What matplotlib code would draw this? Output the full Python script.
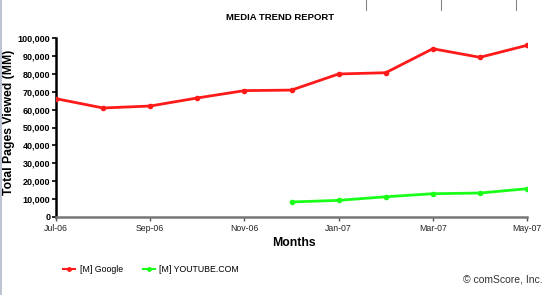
import matplotlib.pyplot as plt
from matplotlib.lines import Line2D

plt.rcParams["font.family"] = ["Liberation Sans", "DejaVu Sans"]

months = ["Jul-06", "Aug-06", "Sep-06", "Oct-06", "Nov-06", "Dec-06",
          "Jan-07", "Feb-07", "Mar-07", "Apr-07", "May-07"]
google = [66100, 60900, 62000, 66500, 70600, 70900, 79900, 80600, 94000, 89200, 95900]
youtube_months = months[5:]
youtube = [8400, 9300, 11300, 13000, 13400, 15800]
yticks = list(range(0, 100001, 10000))

fig = plt.figure(figsize=(5.6, 2.95), dpi=100)
ax = fig.add_axes([56 / 560, 1 - 217 / 295, (527 - 56) / 560, (217 - 38) / 295])

x_google = list(range(len(months)))
x_youtube = [months.index(m) for m in youtube_months]
ax.plot(x_google, google, color="#ff1a1a", lw=2.0, marker="o", ms=3, zorder=3)
ax.plot(x_youtube, youtube, color="#1aff1a", lw=2.0, marker="o", ms=3, zorder=3)

ax.set_xlim(0, len(months) - 1)
ax.set_ylim(0, 100000)
ax.set_yticks(yticks)
ax.set_yticklabels([f"{v:,}" for v in yticks], fontsize=6.5, fontweight="bold")
ax.set_xticks(x_google[::2])
ax.set_xticklabels(months[::2], fontsize=6.3, color="#222222")
ax.tick_params(axis="y", length=3, width=1.2, pad=1)
ax.tick_params(axis="x", length=3, width=1, color="#555555", pad=2)

for s in ["top", "right"]:
    ax.spines[s].set_visible(False)
ax.spines["left"].set_linewidth(1.8)
ax.spines["left"].set_color("black")
ax.spines["bottom"].set_linewidth(1.8)
ax.spines["bottom"].set_color("#777777")

fig.text(9 / 560, 1 - 122 / 295, "Total Pages Viewed (MM)", fontsize=8.8,
         fontweight="bold", rotation=90, ha="center", va="center")
fig.text(294 / 560, 1 - 243 / 295, "Months", fontsize=8.8, fontweight="bold",
         ha="center", va="center")
fig.text(280 / 560, 1 - 17 / 295, "MEDIA TREND REPORT", fontsize=6.8,
         fontweight="bold", ha="center", va="center")

# legend entries
h1 = Line2D([], [], color="#ff1a1a", lw=1.5, marker="o", ms=2.5)
h2 = Line2D([], [], color="#1aff1a", lw=1.5, marker="o", ms=2.5)
fig.legend([h1, h2], ["[M] Google", "[M] YOUTUBE.COM"], loc="center left",
           bbox_to_anchor=(55 / 560, 1 - 270 / 295), ncol=2, frameon=False,
           fontsize=6.3, handlelength=1.4, handletextpad=0.5, columnspacing=2.3)
fig.text(543 / 560, 1 - 280 / 295, "© comScore, Inc.", fontsize=7.5,
         color="#333333", ha="right", va="center")

# decorative frame bits from the original page
for xp in [366, 441, 516]:
    fig.add_artist(Line2D([xp / 560, xp / 560], [1, 1 - 10 / 295],
                          color="#888888", lw=0.8))
fig.add_artist(Line2D([1 / 560, 1 / 560], [0, 1], color="#b0b8c8", lw=1.2))

fig.savefig("out.png", dpi=100)
